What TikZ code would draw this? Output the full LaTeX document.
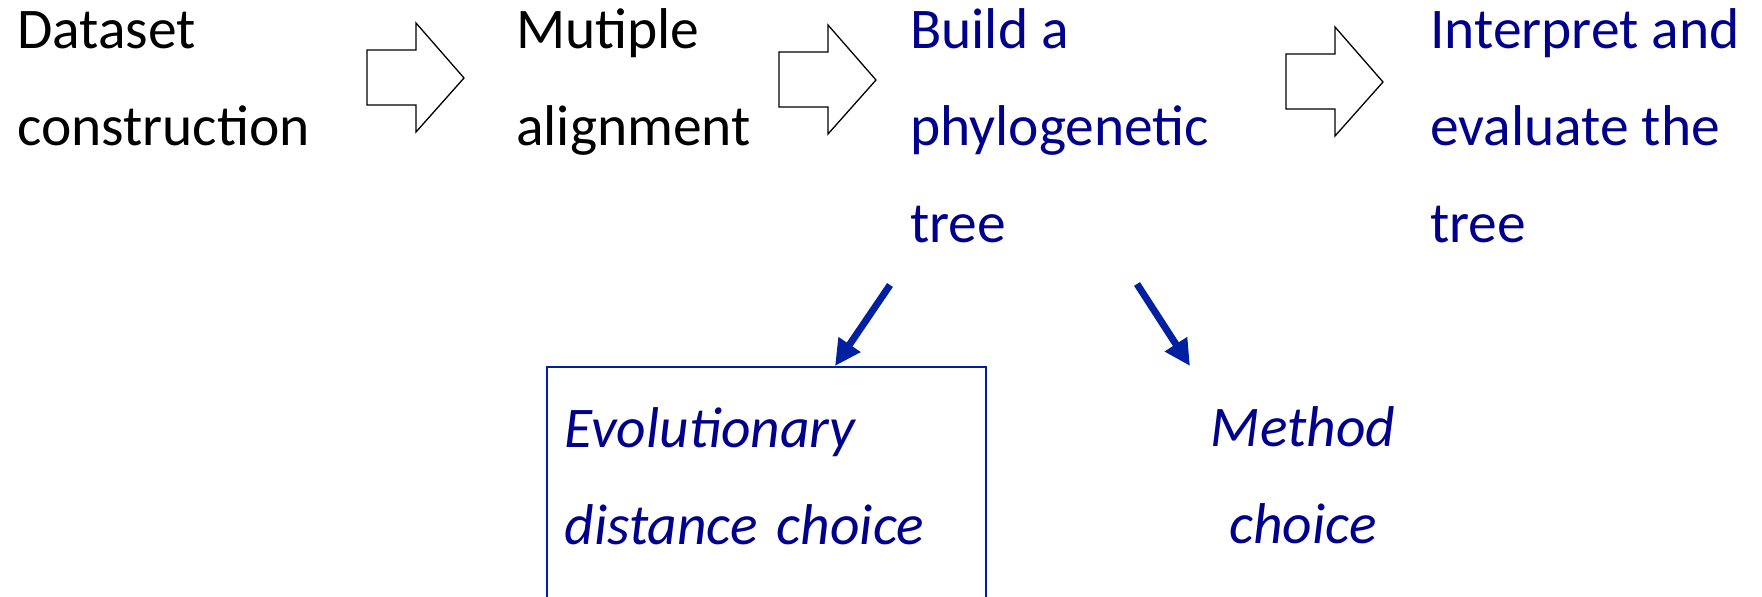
\documentclass[tikz,border=0pt]{standalone}
\usepackage{fontspec}
\setmainfont{Carlito}
\usetikzlibrary{arrows.meta}
\definecolor{stepblue}{RGB}{0,0,140}
\definecolor{arrowblue}{RGB}{0,32,160}
\tikzset{
  steptext/.style={anchor=base west, inner sep=0pt, align=left,
    font=\fontsize{57.5}{97}\selectfont},
  choicetext/.style={steptext, text=stepblue, font=\fontsize{57.5}{97}\selectfont\itshape},
  downarrow/.style={draw=arrowblue, line width=7pt,
    -{Triangle[length=26pt,width=25pt]}},
}
\begin{document}
\begin{tikzpicture}[x=1pt,y=-1pt]
	\clip (0,0) rectangle (1762,597);
	% steps (base = last line)
	\node [steptext] (data) at (17,145) {Dataset\\construction};
	\node [steptext] (align) at (516,145) {Mutiple\\alignment};
	\node [steptext, text=stepblue] (build) at (910,242) {Build a\\phylogenetic\\tree};
	\node [steptext, text=stepblue] (interp) at (1430,242) {Interpret and\\evaluate the\\tree};
	% block arrows between the steps
	\foreach \x/\y in {367/23, 779/25, 1286/27}
	  \draw [line width=1.3pt, fill=white] (\x,\y+27) -- (\x+49,\y+27) -- (\x+49,\y) -- (\x+97,\y+55)
	    -- (\x+49,\y+109) -- (\x+49,\y+82) -- (\x,\y+82) -- cycle;
	% choices
	\node [choicetext, anchor=north west, draw=arrowblue, line width=1.5pt, inner xsep=18pt, inner ysep=0pt,
	  text width=403pt, text height=81pt, text depth=179pt] (evol) at (546,366) {Evolutionary\\distance choice};
	\node [choicetext, anchor=base, align=center] (method) at (1303,543) {Method\\choice};
	\coordinate (treeL) at (890,285);
	\coordinate (treeR) at (1137,284);
	\coordinate (tipR) at (1190,366);
	\draw [downarrow] (treeL) -- ([xshift=289pt]evol.north west);
	\draw [downarrow] (treeR) -- (tipR);
\end{tikzpicture}
\end{document}
